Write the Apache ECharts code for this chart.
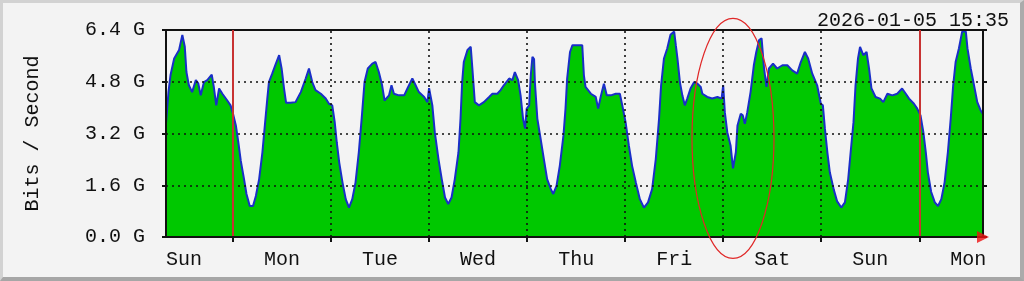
<!DOCTYPE html>
<html>
<head>
<meta charset="utf-8">
<script src="https://cdn.jsdelivr.net/npm/echarts@6/dist/echarts.min.js"></script>
<style>
  html, body { margin: 0; padding: 0; background: #f3f3f3; }
  #wrap { position: relative; width: 1024px; height: 281px; }
  #chart { position: absolute; left: 0; top: 0; width: 1024px; height: 281px; }
  #frame { position: absolute; left: 0; top: 0; width: 1024px; height: 281px; box-sizing: border-box;
           border-top: 3px solid #d2d2d2; border-left: 3px solid #d2d2d2;
           border-right: 4px solid #ababab; border-bottom: 4px solid #a6a6a6; pointer-events: none; }
</style>
</head>
<body>
<div id="wrap"><div id="chart"></div><div id="frame"></div></div>
<script>
// Time in hours relative to Monday 00:00 (first red line); traffic in Gbit/s
const timeHours = [
  -16.4,-15.8,-15.3,-14.4,-13.2,-12.4,-11.8,-11.4,-10.8,-10.0,-9.1,-8.5,-7.9,-7.1,-6.3,-5.2,-4.7,-4.1,-3.4,-2.6,-1.4,-0.6,
  0,0.7,1.3,1.9,2.7,3.3,4.1,4.9,5.6,6.4,7.2,7.8,8.4,8.8,9.6,10.5,11.3,11.9,12.5,13.0,14.1,15.3,16.6,17.8,18.6,19.4,20.2,21.5,22.7,23.5,
  24.3,24.9,25.4,26.0,26.8,27.6,28.4,29.2,30.0,30.8,31.5,32.2,33.0,34.1,34.9,35.7,36.5,37.1,38.2,38.8,39.4,40.6,41.9,42.7,43.9,44.7,45.5,46.8,47.6,
  48.0,48.8,49.4,50.3,51.1,51.9,52.7,53.5,54.3,55.2,55.7,56.1,56.5,57.4,58.2,58.6,59.2,60.2,61.4,62.7,63.5,64.7,65.5,66.3,67.6,68.4,69.0,69.8,70.4,71.0,71.5,71.9,
  72.5,72.9,73.3,73.7,73.9,74.5,75.3,76.1,76.9,77.8,78.4,79.2,80.0,80.9,81.4,81.8,82.5,83.1,84.3,85.5,85.9,86.3,87.6,88.8,89.4,90.0,90.8,91.5,92.5,93.7,94.7,95.3,
  96.1,96.9,97.7,98.6,99.6,100.6,101.6,102.6,103.5,104.3,104.8,105.5,106.3,107.1,108.0,108.4,108.8,109.4,110.0,110.6,111.2,112.0,112.9,113.7,114.5,114.9,116.1,117.3,118.6,119.6,
  120.0,120.4,121.0,121.8,122.4,123.1,123.5,124.3,124.8,125.3,125.9,126.7,127.5,128.1,128.8,129.4,130.0,130.6,131.2,132.2,133.2,134.5,135.7,136.9,138.1,139.0,140.0,140.8,141.8,143.0,143.9,
  144.4,144.9,145.5,146.1,147.1,147.9,148.9,149.8,150.6,151.2,151.9,152.4,153.0,153.5,154.3,155.1,155.7,156.3,157.3,158.4,159.2,160.2,161.4,162.6,163.8,164.7,165.5,166.7,167.5,
  168.3,169.0,169.6,170.1,170.9,171.8,172.6,173.4,174.2,175.0,175.7,176.3,176.9,177.7,178.5,179.4,179.8,180.6,181.4,182.2,183.0,183.6
];
const trafficG = [
  3.50,4.48,5.00,5.52,5.78,6.25,5.88,5.10,4.69,4.48,4.85,4.75,4.38,4.79,4.85,5.02,4.64,4.07,4.59,4.43,4.22,4.07,
  3.81,3.45,2.93,2.36,1.79,1.33,0.96,0.96,1.27,1.79,2.62,3.45,4.28,4.79,5.05,5.36,5.62,5.21,4.59,4.15,4.15,4.17,4.48,4.90,5.21,4.79,4.54,4.43,4.28,4.12,
  4.07,3.55,2.93,2.31,1.69,1.17,0.91,1.17,1.69,2.62,3.66,4.79,5.21,5.36,5.41,5.10,4.69,4.22,4.38,4.69,4.43,4.38,4.38,4.59,4.90,4.69,4.48,4.33,4.17,
  4.60,4.07,3.24,2.41,1.79,1.22,1.02,1.22,1.79,2.62,3.66,4.79,5.41,5.78,5.88,5.21,4.17,4.07,4.17,4.33,4.43,4.43,4.54,4.69,4.90,4.85,5.10,4.85,4.38,3.66,3.35,3.97,
  4.07,5.00,5.57,5.50,4.79,3.66,3.04,2.41,1.79,1.48,1.33,1.58,2.20,3.14,3.97,4.90,5.72,5.93,5.93,5.93,5.00,4.64,4.43,4.33,3.97,4.33,4.74,4.38,4.38,4.43,4.43,4.07,
  3.55,2.83,2.20,1.69,1.17,0.91,1.07,1.48,2.41,3.66,4.69,5.52,5.83,6.25,6.35,5.93,5.52,4.79,4.38,4.07,4.28,4.59,4.79,4.74,4.64,4.43,4.33,4.28,4.33,4.28,
  4.69,3.86,3.24,2.83,2.12,2.62,3.45,3.81,3.76,3.50,3.86,4.48,5.31,5.72,6.09,6.14,5.21,4.64,5.21,5.36,5.21,5.31,5.31,5.15,5.05,5.41,5.72,5.52,5.05,4.69,4.12,
  4.07,3.35,2.62,2.00,1.45,1.10,0.91,1.07,1.79,2.62,3.55,4.69,5.52,5.88,5.62,5.72,5.21,4.59,4.33,4.28,4.17,4.43,4.38,4.43,4.59,4.43,4.28,4.12,3.97,
  3.76,3.24,2.62,2.00,1.40,1.07,0.96,1.17,1.69,2.62,3.66,4.69,5.41,5.83,6.35,6.35,5.83,5.21,4.69,4.17,3.92,3.80
];
const yTicks = [0, 1.6, 3.2, 4.8, 6.4];
const dayGridHours = [24, 48, 72, 96, 120, 144];
const weekStartHours = [0, 168];
const dayTickHours = [0, 24, 48, 72, 96, 120, 144, 168];
const dayLabelHours = [-12, 12, 36, 60, 84, 108, 132, 156, 180];
const dayLabels = ['Sun', 'Mon', 'Tue', 'Wed', 'Thu', 'Fri', 'Sat', 'Sun', 'Mon'];
const xMin = -16.4, xMax = 183.6;
const yMax = 6.4, yStep = 1.6;
const stampText = '2026-01-05 15:35';
const yAxisTitle = 'Bits / Second';
const ellipseCenter = [122.4, 3.05];

const FONT = 'Liberation Mono';
const chart = echarts.init(document.getElementById('chart'), null, { renderer: 'canvas' });
const series = timeHours.map((h, i) => [h, trafficG[i]]);
const dotted = { color: '#111', width: 1.6, type: [2, 4] };

chart.setOption({
  animation: false,
  backgroundColor: '#f3f3f3',
  title: {
    text: stampText, right: 10, top: 6,
    textStyle: { fontFamily: FONT, fontSize: 20, fontWeight: 'normal', color: '#111' }
  },
  grid: { left: 166, top: 30, width: 817, height: 207, show: false },
  xAxis: {
    type: 'value', min: xMin, max: xMax, z: 10,
    axisLine: { show: true, onZero: false, lineStyle: { color: '#111', width: 2 } },
    axisTick: { show: true, customValues: dayTickHours, length: 5, lineStyle: { color: '#111', width: 2 } },
    axisLabel: {
      customValues: dayLabelHours, margin: 13,
      fontFamily: FONT, fontSize: 20, color: '#111',
      formatter: v => dayLabels[dayLabelHours.indexOf(Math.round(v))]
    },
    splitLine: { show: false }
  },
  yAxis: [{
    type: 'value', min: 0, max: yMax, interval: yStep, z: 10,
    name: yAxisTitle, nameLocation: 'middle', nameGap: 123,
    nameTextStyle: { fontFamily: FONT, fontSize: 20, color: '#111' },
    axisLine: { show: true, onZero: false, lineStyle: { color: '#111', width: 2 } },
    axisTick: { show: true, length: 4, lineStyle: { color: '#111', width: 2 } },
    axisLabel: {
      margin: 21, fontFamily: FONT, fontSize: 20, color: '#111', padding: [10, 0, 0, 0],
      formatter: v => v.toFixed(1) + ' G'
    },
    splitLine: { show: false }
  }, {
    type: 'value', min: 0, max: yMax, interval: yStep, position: 'right', z: 10,
    axisLine: { show: true, onZero: false, lineStyle: { color: '#111', width: 2 } },
    axisTick: { show: true, length: 4, lineStyle: { color: '#111', width: 2 } },
    axisLabel: { show: false },
    splitLine: { show: false }
  }],
  series: [{
    type: 'line', data: series, showSymbol: false, symbol: 'none', z: 2,
    lineStyle: { color: '#1a2ec8', width: 2 },
    areaStyle: { color: '#00c800', opacity: 1 }
  }, {
    type: 'line', data: [], z: 5, silent: true,
    markLine: {
      silent: true, symbol: ['none', 'none'], label: { show: false },
      data: [
        ...yTicks.filter(v => v > 0 && v < yMax).map(v => ({ yAxis: v, lineStyle: dotted })),
        { yAxis: yMax, lineStyle: { color: '#111', width: 2, type: 'solid' } },
        ...dayGridHours.map(v => ({ xAxis: v, lineStyle: dotted })),
        ...weekStartHours.map(v => ({ xAxis: v, lineStyle: { color: '#c83232', width: 2, type: 'solid' } }))
      ]
    }
  }, {
    type: 'scatter', data: [[xMax, 0]], symbol: 'triangle', symbolRotate: -90, symbolSize: [12, 12],
    itemStyle: { color: '#ee1111' }, z: 12, clip: false, silent: true
  }]
});

const c = chart.convertToPixel({ gridIndex: 0 }, ellipseCenter);
chart.setOption({
  graphic: [{
    type: 'ellipse', z: 30, silent: true,
    shape: { cx: c[0], cy: c[1], rx: 41, ry: 120 },
    style: { fill: 'none', stroke: '#e02828', lineWidth: 1.2 }
  }]
});
</script>
</body>
</html>
